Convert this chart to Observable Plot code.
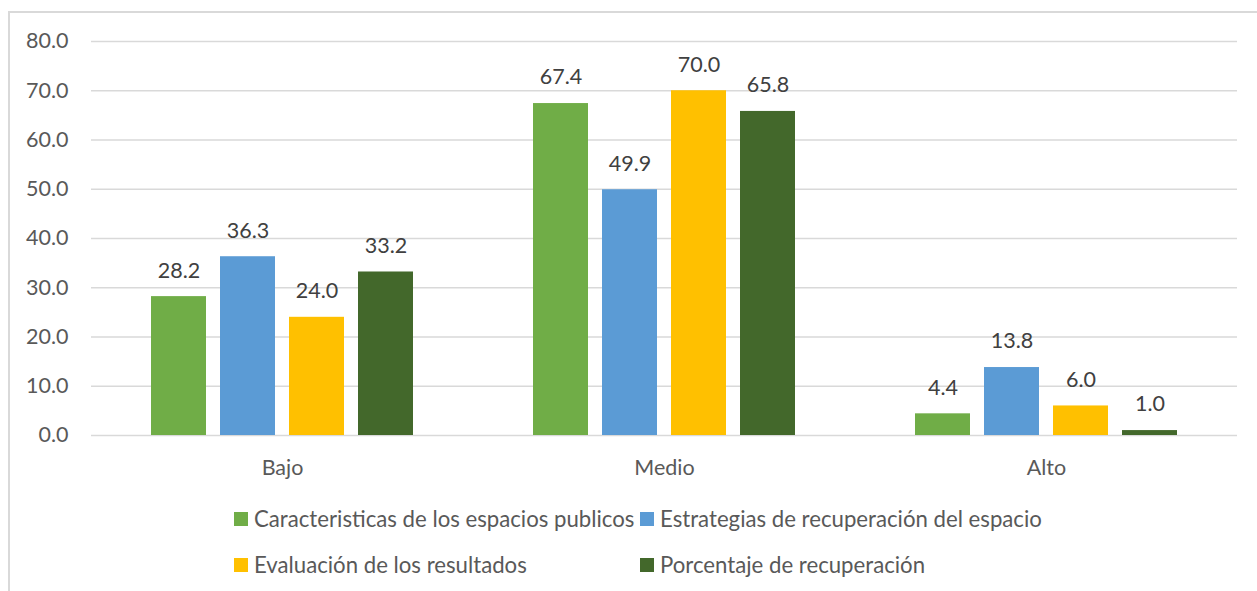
<!DOCTYPE html>
<html>
<head>
<meta charset="utf-8">
<script src="https://cdn.jsdelivr.net/npm/d3@7"></script>
<script src="https://cdn.jsdelivr.net/npm/@observablehq/plot@0.6"></script>
<style>
  html, body { margin: 0; padding: 0; background: #fff; }
  body { width: 1257px; height: 591px; overflow: hidden; position: relative; font-family: Lato, "Open Sans", sans-serif; }
  #frame { position: absolute; left: 8px; top: 11px; width: 1300px; height: 700px; border-left: 2px solid #d9d9d9; border-top: 2px solid #d9d9d9; box-sizing: border-box; }
  #chart { position: absolute; left: 0; top: 0; }
  #legend { position: absolute; left: 234px; top: 507px; display: grid; grid-template-columns: 406px 440px; row-gap: 23px; font-size: 22.2px; color: #595959; }
  .item { display: flex; align-items: center; white-space: nowrap; height: 23px; }
  .sw { width: 14px; height: 14px; margin-right: 6px; flex: none; }
</style>
</head>
<body>
<div id="frame"></div>
<div id="chart"></div>
<div id="legend"></div>
<script>
const categories = ["Bajo", "Medio", "Alto"];
const seriesNames = [
  "Caracteristicas de los espacios publicos",
  "Estrategias de recuperación del espacio",
  "Evaluación de los resultados",
  "Porcentaje de recuperación"
];
const caracteristicas = [28.2, 67.4, 4.4];
const estrategias = [36.3, 49.9, 13.8];
const evaluacion = [24.0, 70.0, 6.0];
const porcentaje = [33.2, 65.8, 1.0];
const yTicks = [0, 10, 20, 30, 40, 50, 60, 70, 80];
const colors = ["#70ad47", "#5b9bd5", "#ffc000", "#43682b"];

const seriesValues = [caracteristicas, estrategias, evaluacion, porcentaje];
const data = [];
categories.forEach((c, i) => {
  seriesNames.forEach((s, j) => {
    data.push({category: c, series: s, value: seriesValues[j][i]});
  });
});

const chart = Plot.plot({
  width: 1257,
  height: 480,
  marginTop: 41,
  marginBottom: 45,
  marginLeft: 91,
  marginRight: 20,
  style: {fontFamily: "Lato, 'Open Sans', sans-serif", fontSize: "21px", background: "transparent", overflow: "visible"},
  fx: {domain: categories, padding: 0, label: null},
  x: {domain: seriesNames, paddingInner: 0.2, paddingOuter: 0.868, axis: null},
  y: {domain: [0, 80], ticks: yTicks, label: null},
  color: {domain: seriesNames, range: colors},
  marks: [
    Plot.gridY(yTicks, {stroke: "#d9d9d9", strokeOpacity: 1, strokeWidth: 1.5}),
    Plot.axisY(yTicks, {tickSize: 0, tickPadding: 23, tickFormat: d => d.toFixed(1), fill: "#595959", label: null, fontSize: 21.5}),
    Plot.axisFx({anchor: "bottom", tickSize: 0, tickPadding: 24, fill: "#595959", label: null, fontSize: 21.5}),
    Plot.barY(data, {fx: "category", x: "series", y: "value", fill: "series"}),
    Plot.text(data, {fx: "category", x: "series", y: "value", text: d => d.value.toFixed(1), dy: -26, fill: "#404040", fontSize: 21.5})
  ]
});
document.getElementById("chart").appendChild(chart);

const legend = document.getElementById("legend");
seriesNames.forEach((name, j) => {
  const item = document.createElement("div");
  item.className = "item";
  const sw = document.createElement("span");
  sw.className = "sw";
  sw.style.background = colors[j];
  const t = document.createElement("span");
  t.textContent = name;
  item.appendChild(sw);
  item.appendChild(t);
  legend.appendChild(item);
});
</script>
</body>
</html>
